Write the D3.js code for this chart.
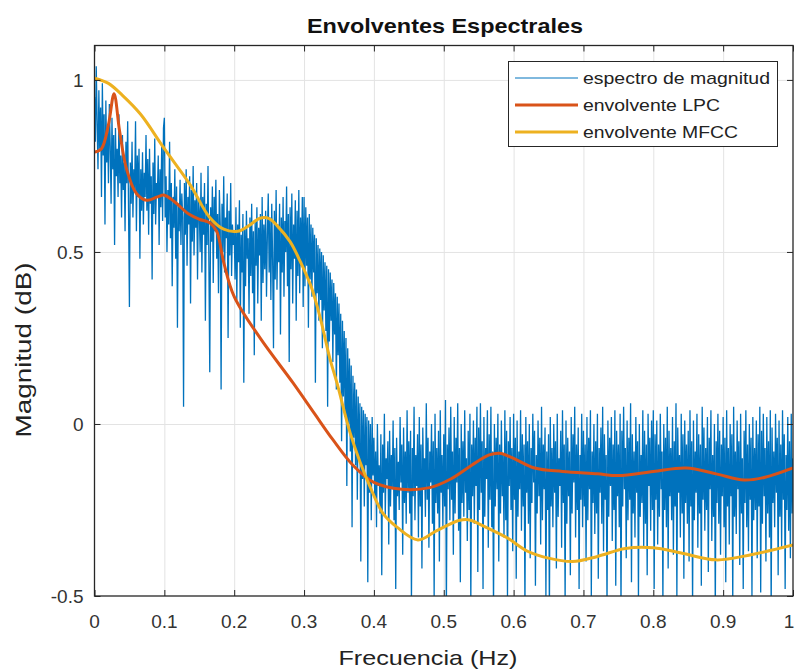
<!DOCTYPE html>
<html>
<head>
<meta charset="utf-8">
<script src="https://cdn.jsdelivr.net/npm/d3@7"></script>
<style>
  body { margin: 0; background: #fff; }
  svg { display: block; font-family: "Liberation Sans", Arial, sans-serif; }
  .grid line { stroke: #e3e3e3; stroke-width: 1; }
  .grid path { display: none; }
  .axis path { display: none; }
  .axis line { stroke: #262626; stroke-width: 1; }
  .tick-label { fill: #333; font-size: 19px; }
</style>
</head>
<body>
<svg id="chart"></svg>
<script>
// magnitude spectrum, evenly spaced from 0 to 1 Hz
const spectrum = [
  // 0 - 0.05
  0.95, 0.82, 1.04, 0.88, 0.74, 0.97, 0.80, 0.92, 0.66, 0.99, 0.78, 0.90, 0.58, 0.94, 0.76, 0.86, 0.70, 0.93, 0.81, 0.64,
  0.89, 0.74, 0.84, 0.52, 0.86, 0.72, 0.80, 0.66, 0.90, 0.70, 0.78, 0.60, 0.84, 0.68, 0.76, 0.56, 0.82, 0.70, 0.88, 0.62,
  // 0.05 - 0.1
  0.34, 0.76, 0.64, 0.82, 0.60, 0.74, 0.68, 0.88, 0.56, 0.78, 0.66, 0.80, 0.48, 0.74, 0.62, 0.79, 0.58, 0.73, 0.66, 0.84,
  0.62, 0.77, 0.55, 0.80, 0.64, 0.72, 0.42, 0.76, 0.61, 0.83, 0.58, 0.70, 0.66, 0.78, 0.52, 0.74, 0.63, 0.81, 0.59, 0.86,
  // 0.1 - 0.15
  0.89, 0.60, 0.72, 0.50, 0.68, 0.58, 0.82, 0.54, 0.70, 0.40, 0.66, 0.57, 0.74, 0.48, 0.69, 0.28, 0.64, 0.56, 0.71, 0.52,
  0.67, 0.60, 0.05, 0.70, 0.55, 0.74, 0.46, 0.66, 0.58, 0.72, 0.35, 0.68, 0.53, 0.75, 0.49, 0.65, 0.57, 0.70, 0.42, 0.66,
  // 0.15 - 0.2
  0.62, 0.50, 0.73, 0.44, 0.66, 0.55, 0.70, 0.30, 0.64, 0.52, 0.75, 0.47, 0.15, 0.63, 0.53, 0.69, 0.41, 0.66, 0.56, 0.71,
  0.48, 0.61, 0.38, 0.68, 0.58, 0.10, 0.64, 0.50, 0.72, 0.44, 0.60, 0.54, 0.67, 0.25, 0.62, 0.49, 0.70, 0.43, 0.58, 0.52,
  // 0.2 - 0.25
  0.56, 0.42, 0.63, 0.36, 0.58, 0.47, 0.65, 0.28, 0.55, 0.44, 0.61, 0.12, 0.57, 0.40, 0.62, 0.48, 0.54, 0.32, 0.60, 0.43,
  0.64, 0.38, 0.56, 0.20, 0.59, 0.46, 0.63, 0.35, 0.57, 0.49, 0.61, 0.30, 0.66, 0.41, 0.58, 0.45, 0.62, 0.37, 0.55, 0.67,
  // 0.25 - 0.3
  0.44, 0.60, 0.36, 0.64, 0.48, 0.22, 0.62, 0.42, 0.68, 0.39, 0.58, 0.47, 0.64, 0.26, 0.60, 0.44, 0.66, 0.37, 0.59, 0.50,
  0.69, 0.40, 0.61, 0.18, 0.63, 0.45, 0.67, 0.35, 0.58, 0.48, 0.65, 0.30, 0.62, 0.43, 0.68, 0.38, 0.60, 0.46, 0.66, 0.34,
  // 0.3 - 0.35
  0.66, 0.40, 0.63, 0.46, 0.60, 0.28, 0.61, 0.42, 0.58, 0.37, 0.57, 0.44, 0.55, 0.12, 0.54, 0.38, 0.52, 0.30, 0.51, 0.36,
  0.50, 0.22, 0.49, 0.33, 0.47, 0.27, 0.46, 0.05, 0.45, 0.24, 0.44, 0.30, 0.42, 0.18, 0.41, 0.26, 0.38, 0.10, 0.37, 0.20,
  // 0.35 - 0.4
  0.35, 0.12, 0.32, -0.05, 0.30, 0.08, 0.27, 0.02, 0.25, -0.18, 0.22, 0.00, 0.19, -0.08, 0.17, -0.30, 0.14, -0.04, 0.12, -0.12,
  0.10, -0.22, 0.08, -0.10, 0.06, -0.40, 0.05, -0.16, 0.04, -0.24, 0.03, -0.12, 0.02, -0.46, 0.01, -0.20, 0.00, -0.28, 0.02, -0.15,
  // 0.4 - 0.45
  -0.04, -0.22, -0.08, -0.30, 0.00, -0.18, -0.12, -0.26, -0.03, -0.44, -0.06, -0.20, 0.03, -0.27, -0.10, -0.16, -0.05, -0.35, -0.02, -0.24,
  -0.09, -0.19, 0.01, -0.28, -0.07, -0.48, -0.04, -0.21, -0.11, -0.25, 0.02, -0.17, -0.06, -0.38, -0.01, -0.23, -0.08, -0.29, 0.04, -0.20,
  // 0.45 - 0.5
  -0.05, -0.26, -0.02, -0.52, -0.07, -0.21, 0.05, -0.28, -0.09, -0.18, -0.03, -0.33, 0.02, -0.24, -0.06, -0.42, -0.01, -0.19, -0.10, -0.27,
  0.06, -0.22, -0.04, -0.36, -0.08, -0.17, 0.00, -0.29, -0.05, -0.50, 0.03, -0.23, -0.07, -0.26, -0.02, -0.40, 0.04, -0.20, -0.09, -0.30,
  // 0.5 - 0.55
  -0.03, -0.24, 0.07, -0.55, -0.06, -0.19, -0.01, -0.28, 0.05, -0.22, -0.08, -0.38, 0.02, -0.26, -0.04, -0.17, 0.06, -0.31, -0.07, -0.46,
  0.00, -0.23, -0.05, -0.27, 0.04, -0.20, -0.10, -0.34, -0.02, -0.25, 0.03, -0.52, -0.06, -0.21, 0.01, -0.29, -0.04, -0.18, 0.05, -0.43,
  // 0.55 - 0.6
  -0.01, -0.25, 0.06, -0.20, -0.05, -0.48, 0.02, -0.27, -0.07, -0.16, 0.04, -0.36, -0.03, -0.22, 0.05, -0.30, -0.08, -0.54, 0.00, -0.24,
  -0.04, -0.19, 0.03, -0.40, -0.06, -0.26, 0.01, -0.21, -0.09, -0.33, 0.04, -0.28, -0.02, -0.50, -0.05, -0.18, 0.02, -0.25, -0.07, -0.37,
  // 0.6 - 0.65
  0.03, -0.22, -0.04, -0.45, 0.01, -0.27, -0.08, -0.19, 0.04, -0.31, -0.03, -0.24, -0.06, -0.54, 0.02, -0.20, -0.05, -0.29, 0.00, -0.39,
  -0.07, -0.23, 0.03, -0.17, -0.02, -0.47, -0.09, -0.26, 0.01, -0.21, -0.04, -0.35, 0.05, -0.28, -0.06, -0.19, -0.01, -0.50, -0.08, -0.25,
  // 0.65 - 0.7
  -0.03, -0.56, 0.02, -0.24, -0.07, -0.30, 0.00, -0.20, -0.05, -0.42, 0.03, -0.27, -0.10, -0.18, -0.02, -0.36, 0.04, -0.23, -0.06, -0.52,
  0.01, -0.29, -0.04, -0.21, -0.08, -0.44, 0.02, -0.26, -0.03, -0.17, 0.05, -0.33, -0.06, -0.25, -0.01, -0.48, -0.09, -0.22, 0.03, -0.30,
  // 0.7 - 0.75
  -0.02, -0.24, -0.06, -0.40, 0.02, -0.28, -0.04, -0.19, 0.04, -0.50, -0.08, -0.23, 0.00, -0.32, -0.05, -0.26, 0.03, -0.45, -0.07, -0.20,
  -0.01, -0.29, 0.05, -0.37, -0.03, -0.22, -0.09, -0.53, 0.01, -0.27, -0.04, -0.18, 0.02, -0.34, -0.06, -0.25, 0.04, -0.47, -0.02, -0.21,
  // 0.75 - 0.8
  -0.06, -0.30, 0.03, -0.54, -0.02, -0.24, 0.05, -0.19, -0.07, -0.39, 0.01, -0.28, -0.04, -0.22, 0.06, -0.46, -0.03, -0.26, -0.08, -0.33,
  0.02, -0.20, -0.05, -0.51, 0.00, -0.27, -0.09, -0.23, 0.04, -0.36, -0.02, -0.29, -0.06, -0.44, 0.03, -0.18, -0.04, -0.31, 0.01, -0.25,
  // 0.8 - 0.85
  0.04, -0.48, -0.03, -0.22, 0.01, -0.35, -0.06, -0.27, 0.03, -0.19, -0.08, -0.52, 0.00, -0.25, -0.04, -0.30, 0.05, -0.42, -0.02, -0.21,
  -0.07, -0.28, 0.02, -0.38, -0.05, -0.24, 0.06, -0.50, -0.01, -0.20, -0.09, -0.33, 0.03, -0.26, -0.03, -0.45, 0.01, -0.23, -0.06, -0.29,
  // 0.85 - 0.9
  -0.02, -0.40, 0.04, -0.24, -0.05, -0.53, 0.01, -0.28, -0.08, -0.20, 0.03, -0.36, -0.03, -0.26, -0.06, -0.47, 0.05, -0.22, -0.01, -0.31,
  -0.07, -0.25, 0.02, -0.43, -0.04, -0.19, 0.04, -0.34, -0.09, -0.27, 0.00, -0.55, -0.05, -0.23, 0.03, -0.29, -0.02, -0.38, -0.06, -0.21,
  // 0.9 - 0.95
  0.02, -0.30, -0.04, -0.46, 0.04, -0.24, -0.07, -0.35, 0.00, -0.21, -0.03, -0.52, 0.05, -0.27, -0.08, -0.32, 0.01, -0.19, -0.05, -0.41,
  0.03, -0.26, -0.10, -0.48, -0.02, -0.23, 0.04, -0.30, -0.06, -0.37, 0.00, -0.22, -0.04, -0.50, 0.02, -0.28, -0.07, -0.25, 0.01, -0.39,
  // 0.95 - 1
  -0.03, -0.24, 0.05, -0.49, -0.02, -0.29, 0.03, -0.21, -0.07, -0.40, 0.02, -0.26, -0.05, -0.33, 0.04, -0.54, -0.01, -0.23, -0.08, -0.30,
  0.03, -0.20, -0.04, -0.44, 0.01, -0.27, -0.06, -0.36, 0.04, -0.22, -0.03, -0.48, -0.09, -0.25, 0.02, -0.31, -0.05, -0.39, 0.03, -0.26,
  -0.10
];

const lpcFreq = [0, 0.01, 0.02, 0.028, 0.036, 0.046, 0.06, 0.075, 0.09, 0.1, 0.115, 0.135, 0.15, 0.165, 0.175, 0.185, 0.2,
  0.237, 0.284, 0.315, 0.341, 0.37, 0.4, 0.44, 0.48, 0.51, 0.54, 0.565, 0.58, 0.6, 0.63, 0.67, 0.72, 0.75, 0.8, 0.847,
  0.89, 0.93, 0.96, 1.0];
const lpcVals = [0.79, 0.80, 0.87, 0.96, 0.85, 0.74, 0.67, 0.65, 0.66, 0.665, 0.645, 0.61, 0.595, 0.585, 0.56, 0.47, 0.37,
  0.25, 0.12, 0.03, -0.045, -0.12, -0.17, -0.19, -0.185, -0.16, -0.12, -0.09, -0.085, -0.1, -0.128, -0.138, -0.145,
  -0.15, -0.138, -0.128, -0.145, -0.163, -0.155, -0.128];

const mfccFreq = [0, 0.02, 0.04, 0.066, 0.1, 0.137, 0.165, 0.185, 0.205, 0.22, 0.237, 0.25, 0.262, 0.28, 0.294, 0.31, 0.323,
  0.337, 0.347, 0.366, 0.38, 0.394, 0.413, 0.433, 0.463, 0.49, 0.523, 0.537, 0.56, 0.59, 0.62, 0.65, 0.684, 0.72, 0.76,
  0.8, 0.84, 0.89, 0.94, 1.0];
const mfccVals = [1.005, 0.99, 0.955, 0.9, 0.8, 0.695, 0.6, 0.566, 0.56, 0.575, 0.598, 0.597, 0.575, 0.53, 0.475, 0.4, 0.31,
  0.19, 0.12, -0.026, -0.11, -0.18, -0.26, -0.3, -0.337, -0.31, -0.28, -0.279, -0.3, -0.33, -0.37, -0.39, -0.4, -0.385,
  -0.362, -0.36, -0.375, -0.395, -0.38, -0.352];

const xTicks = [0, 0.1, 0.2, 0.3, 0.4, 0.5, 0.6, 0.7, 0.8, 0.9, 1];
const xTickLabels = ['0', '0.1', '0.2', '0.3', '0.4', '0.5', '0.6', '0.7', '0.8', '0.9', '1'];
const yTicks = [-0.5, 0, 0.5, 1];
const yTickLabels = ['-0.5', '0', '0.5', '1'];

const seriesNames = ['espectro de magnitud', 'envolvente LPC', 'envolvente MFCC'];
const seriesColors = ['#0072BD', '#D95319', '#EDB120'];

const W = 795, H = 671;
const plot = { left: 94.5, right: 793, top: 45.5, bottom: 596 };

const svg = d3.select('#chart').attr('width', W).attr('height', H);

const x = d3.scaleLinear().domain([0, 1]).range([plot.left, plot.right]);
const y = d3.scaleLinear().domain([-0.5, 1.1]).range([plot.bottom, plot.top]);
const pw = plot.right - plot.left, ph = plot.bottom - plot.top;
const specStep = 1 / (spectrum.length - 1);

// grid
svg.append('g').attr('class', 'grid').attr('transform', 'translate(0,' + plot.bottom + ')')
  .call(d3.axisBottom(x).tickValues(xTicks.slice(1, -1)).tickSize(-ph).tickFormat(''));
svg.append('g').attr('class', 'grid').attr('transform', 'translate(' + plot.left + ',0)')
  .call(d3.axisLeft(y).tickValues(yTicks.slice(1)).tickSize(-pw).tickFormat(''));

svg.append('clipPath').attr('id', 'clip').append('rect')
  .attr('x', plot.left).attr('y', plot.top).attr('width', pw).attr('height', ph);

const plotArea = svg.append('g').attr('clip-path', 'url(#clip)');

// spectrum
const specLine = d3.line().x((d, i) => x(i * specStep)).y(d => y(d));
plotArea.append('path').datum(spectrum)
  .attr('fill', 'none').attr('stroke', seriesColors[0]).attr('stroke-width', 1.3)
  .attr('d', specLine);

// envelopes
const envLine = d3.line().x(d => x(d[0])).y(d => y(d[1])).curve(d3.curveCatmullRom.alpha(0.5));
plotArea.append('path').datum(d3.zip(lpcFreq, lpcVals))
  .attr('fill', 'none').attr('stroke', seriesColors[1]).attr('stroke-width', 3)
  .attr('stroke-linejoin', 'round').attr('d', envLine);
plotArea.append('path').datum(d3.zip(mfccFreq, mfccVals))
  .attr('fill', 'none').attr('stroke', seriesColors[2]).attr('stroke-width', 3)
  .attr('stroke-linejoin', 'round').attr('d', envLine);

// ticks on all four sides, pointing in
svg.append('g').attr('class', 'axis').attr('transform', 'translate(0,' + plot.bottom + ')')
  .call(d3.axisBottom(x).tickValues(xTicks).tickSize(-6).tickFormat(''));
svg.append('g').attr('class', 'axis').attr('transform', 'translate(0,' + plot.top + ')')
  .call(d3.axisTop(x).tickValues(xTicks).tickSize(-6).tickFormat(''));
svg.append('g').attr('class', 'axis').attr('transform', 'translate(' + plot.left + ',0)')
  .call(d3.axisLeft(y).tickValues(yTicks).tickSize(-6).tickFormat(''));
svg.append('g').attr('class', 'axis').attr('transform', 'translate(' + plot.right + ',0)')
  .call(d3.axisRight(y).tickValues(yTicks).tickSize(-6).tickFormat(''));

svg.append('rect').attr('x', plot.left).attr('y', plot.top).attr('width', pw).attr('height', ph)
  .attr('fill', 'none').attr('stroke', '#262626').attr('stroke-width', 1.3);

// tick labels (last one nudged in so it stays on the page)
svg.selectAll('.xlab').data(xTicks).enter().append('text')
  .attr('class', 'tick-label').attr('text-anchor', 'middle')
  .attr('x', (d, i) => x(d) - (i == xTicks.length - 1 ? 4 : 0)).attr('y', plot.bottom + 32)
  .text((d, i) => xTickLabels[i]);
svg.selectAll('.ylab').data(yTicks).enter().append('text')
  .attr('class', 'tick-label').attr('text-anchor', 'end')
  .attr('x', plot.left - 11).attr('y', d => y(d) + 7)
  .text((d, i) => yTickLabels[i]);

// title and axis labels
svg.append('text').attr('text-anchor', 'middle')
  .attr('x', 445).attr('y', 33)
  .attr('font-size', 21).attr('font-weight', 'bold').attr('fill', '#111')
  .attr('textLength', 276).attr('lengthAdjust', 'spacingAndGlyphs')
  .text('Envolventes Espectrales');
svg.append('text').attr('text-anchor', 'middle')
  .attr('x', 428).attr('y', 665)
  .attr('font-size', 21).attr('fill', '#222')
  .attr('textLength', 179).attr('lengthAdjust', 'spacingAndGlyphs')
  .text('Frecuencia (Hz)');
svg.append('text').attr('text-anchor', 'middle')
  .attr('transform', 'translate(31,350)rotate(-90)')
  .attr('font-size', 22).attr('fill', '#222')
  .attr('textLength', 175).attr('lengthAdjust', 'spacingAndGlyphs')
  .text('Magnitud (dB)');

// legend
const legend = svg.append('g');
legend.append('rect').attr('x', 508.5).attr('y', 61.5).attr('width', 269).attr('height', 85)
  .attr('fill', '#fff').attr('stroke', '#262626').attr('stroke-width', 1);
const legendWidths = [187, 137, 155];
seriesNames.forEach((name, i) => {
  const ly = 78 + i * 27;
  legend.append('line').attr('x1', 515).attr('x2', 578).attr('y1', ly).attr('y2', ly)
    .attr('stroke', seriesColors[i]).attr('stroke-width', i == 0 ? 1 : 3);
  legend.append('text').attr('x', 583).attr('y', ly + 6)
    .attr('font-size', 17).attr('fill', '#222')
    .attr('textLength', legendWidths[i]).attr('lengthAdjust', 'spacingAndGlyphs')
    .text(name);
});
</script>
</body>
</html>
